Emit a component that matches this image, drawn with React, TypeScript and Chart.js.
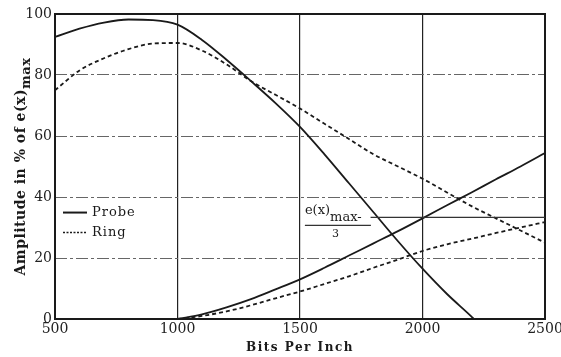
import React, { useEffect, useRef } from "react";
import { Chart, registerables } from "chart.js";

Chart.register(...registerables);

// Bits per inch (x) and amplitude in % of e(x)max (y)
const probeFallX = [500, 600, 700, 800, 900, 1000, 1100, 1200, 1300, 1400, 1500, 1600, 1700, 1800, 1900, 2000, 2100, 2200, 2210];
const probeFallY = [92.5, 95.2, 97.2, 98.2, 98, 96.5, 91.5, 85, 78, 70.8, 63, 54, 44.5, 35, 25.5, 16.5, 8.2, 0.8, 0];

const ringFallX = [500, 600, 700, 800, 900, 1000, 1100, 1200, 1300, 1400, 1500, 1600, 1700, 1800, 1900, 2000, 2100, 2200, 2300, 2400, 2500];
const ringFallY = [75, 81.5, 85.5, 88.5, 90.3, 90.5, 88, 83.5, 78, 73.5, 69, 64, 59, 54, 50, 46, 41.5, 37, 33, 29, 25];

const probeRiseX = [1000, 1100, 1200, 1300, 1400, 1500, 1600, 1700, 1800, 1900, 2000, 2100, 2200, 2300, 2400, 2500];
const probeRiseY = [0, 1.5, 3.8, 6.5, 9.7, 13, 16.8, 20.8, 24.8, 28.8, 33, 37.3, 41.5, 45.8, 50, 54.4];

const ringRiseX = [1000, 1100, 1200, 1300, 1400, 1500, 1600, 1700, 1800, 1900, 2000, 2100, 2200, 2300, 2400, 2500];
const ringRiseY = [0, 1, 2.5, 4.5, 6.8, 9, 11.5, 14, 16.8, 19.5, 22.3, 24.5, 26.3, 28.2, 30, 31.8];

const xTicks = [500, 1000, 1500, 2000, 2500];
const yTicks = [0, 20, 40, 60, 80, 100];

const legendLabels = ["Probe", "Ring"];
const thirdLevel = 100 / 3; // e(x)max / 3
const thirdLineStartX = 1788;
const fractionLabelX = 1520;

const INK = "#1a1a1a";
const SERIF = "'DejaVu Serif', 'Liberation Serif', serif";

const pts = (xs: number[], ys: number[]) => xs.map((x, i) => ({ x, y: ys[i] }));

const overlay = {
  id: "overlay",
  afterDatasetsDraw(chart: any) {
    const { ctx, chartArea: a, scales } = chart;
    const xs = scales.x;
    const ys = scales.y;
    ctx.save();
    // frame
    ctx.strokeStyle = INK;
    ctx.lineWidth = 2;
    ctx.strokeRect(a.left, a.top, a.right - a.left, a.bottom - a.top);

    // e(x)max/3 line
    const y3 = ys.getPixelForValue(thirdLevel);
    ctx.lineWidth = 1.2;
    ctx.strokeStyle = "#333";
    ctx.beginPath();
    ctx.moveTo(xs.getPixelForValue(thirdLineStartX), y3);
    ctx.lineTo(a.right, y3);
    ctx.stroke();

    // fraction label
    const fx = xs.getPixelForValue(fractionLabelX);
    ctx.fillStyle = INK;
    ctx.textBaseline = "alphabetic";
    ctx.textAlign = "left";
    ctx.font = `13px ${SERIF}`;
    ctx.fillText("e(x)", fx, y3 - 3);
    const w1 = ctx.measureText("e(x)").width;
    ctx.fillText("max-", fx + w1, y3 + 4);
    ctx.beginPath();
    ctx.moveTo(fx, y3 + 8);
    ctx.lineTo(fx + 66, y3 + 8);
    ctx.stroke();
    ctx.font = `11px ${SERIF}`;
    ctx.fillText("3", fx + 27, y3 + 20);

    // legend
    const lx = a.left + 8;
    const ly1 = ys.getPixelForValue(34.9);
    const ly2 = ys.getPixelForValue(28.4);
    ctx.strokeStyle = INK;
    ctx.lineWidth = 2;
    ctx.beginPath();
    ctx.moveTo(lx, ly1);
    ctx.lineTo(lx + 24, ly1);
    ctx.stroke();
    ctx.setLineDash([2, 1.5]);
    ctx.lineWidth = 1.5;
    ctx.beginPath();
    ctx.moveTo(lx, ly2);
    ctx.lineTo(lx + 24, ly2);
    ctx.stroke();
    ctx.setLineDash([]);
    ctx.font = `13px ${SERIF}`;
    ctx.textBaseline = "middle";
    (ctx as any).letterSpacing = "1px";
    ctx.fillText(legendLabels[0], lx + 29, ly1);
    ctx.fillText(legendLabels[1], lx + 29, ly2);
    (ctx as any).letterSpacing = "0px";

    // y title with subscript
    ctx.save();
    ctx.translate(25, (a.top + a.bottom) / 2);
    ctx.rotate(-Math.PI / 2);
    ctx.font = `bold 14px ${SERIF}`;
    const main = "Amplitude in % of e(x)";
    (ctx as any).letterSpacing = "0.5px";
    const mw = ctx.measureText(main).width;
    ctx.font = `bold 13px ${SERIF}`;
    const sw = ctx.measureText("max").width;
    const start = -(mw + sw) / 2;
    ctx.textBaseline = "alphabetic";
    ctx.textAlign = "left";
    ctx.font = `bold 14px ${SERIF}`;
    ctx.fillText(main, start, 0);
    ctx.font = `bold 13px ${SERIF}`;
    ctx.fillText("max", start + mw, 5);
    (ctx as any).letterSpacing = "0px";
    ctx.restore();

    // x title
    ctx.font = `bold 12px ${SERIF}`;
    (ctx as any).letterSpacing = "1.5px";
    ctx.textAlign = "center";
    ctx.textBaseline = "middle";
    ctx.fillText("Bits Per Inch", (a.left + a.right) / 2, 348);
    (ctx as any).letterSpacing = "0px";
    ctx.restore();
  },
};

export default function App() {
  const ref = useRef<HTMLCanvasElement | null>(null);
  useEffect(() => {
    if (!ref.current) return;
    const common = { pointRadius: 0, borderColor: INK, fill: false, cubicInterpolationMode: "monotone" as const };
    const chart = new Chart(ref.current, {
      type: "line",
      data: {
        datasets: [
          { ...common, label: "Probe", data: pts(probeFallX, probeFallY), borderWidth: 1.8 },
          { ...common, label: "Ring", data: pts(ringFallX, ringFallY), borderWidth: 1.8, borderDash: [4, 3] },
          { ...common, label: "Probe 2", data: pts(probeRiseX, probeRiseY), borderWidth: 1.8 },
          { ...common, label: "Ring 2", data: pts(ringRiseX, ringRiseY), borderWidth: 1.8, borderDash: [4, 3] },
        ],
      },
      options: {
        responsive: false,
        animation: false,
        layout: { padding: { top: 14, right: 16, left: 0, bottom: 0 } },
        plugins: { legend: { display: false }, tooltip: { enabled: false } },
        scales: {
          x: {
            type: "linear",
            min: 500,
            max: 2500,
            afterBuildTicks: (s: any) => { s.ticks = xTicks.map((v) => ({ value: v })); },
            afterFit: (s: any) => { s.height = 38; s.paddingLeft = 0; s.paddingRight = 0; },
            ticks: { color: "#222", font: { family: SERIF, size: 14 }, padding: 2, maxRotation: 0, autoSkip: false, callback: (v: any) => String(v) },
            grid: { color: "#222", lineWidth: 1.2, drawTicks: false },
            border: { display: false },
          },
          y: {
            min: 0,
            max: 100,
            afterBuildTicks: (s: any) => { s.ticks = yTicks.map((v) => ({ value: v })); },
            afterFit: (s: any) => { s.width = 55; s.paddingTop = 0; s.paddingBottom = 0; },
            ticks: { color: "#222", font: { family: SERIF, size: 14 }, padding: 3, callback: (v: any) => String(v) },
            grid: { color: "#666", lineWidth: 1, drawTicks: false },
            border: { display: false, dash: [12, 3, 3, 3] },
          },
        },
      },
      plugins: [overlay],
    } as any);
    return () => chart.destroy();
  }, []);
  return (
    <div style={{ position: "fixed", left: 0, top: 0, width: 561, height: 357, background: "#fff" }}>
      <canvas ref={ref} width={561} height={357} />
    </div>
  );
}
